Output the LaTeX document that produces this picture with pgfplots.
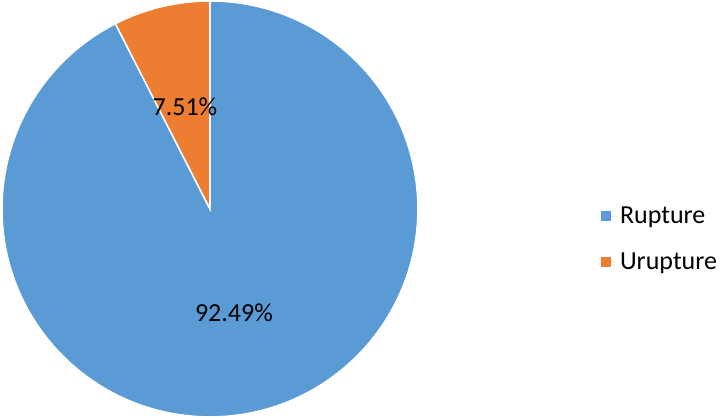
\documentclass[border=0pt]{standalone}
\usepackage{fontspec}
\setmainfont{Carlito}
\usepackage{pgfplots}
\pgfplotsset{compat=1.18}
\definecolor{pieblue}{HTML}{5B9BD5}
\definecolor{pieorange}{HTML}{ED7D31}
\begin{document}
\begin{tikzpicture}
% shares in percent
\def\valRupture{92.49}
\def\valUrupture{7.51}
\pgfmathsetmacro\angB{\valUrupture*3.6}
\pgfmathsetmacro\angA{\valRupture*3.6}
\begin{axis}[
    x=1pt, y=1pt,
    xmin=0, xmax=720, ymin=0, ymax=419,
    hide axis, clip=false,
    legend style={at={(axis cs:601,180)}, anchor=west, draw=none, fill=none,
        font=\fontsize{26}{30}\selectfont, row sep=21pt, inner sep=0pt,
        nodes={inner sep=3pt}},
    legend cell align=left,
    legend image code/.code={\fill[#1, draw=none] (0pt,-5pt) rectangle (10pt,5pt);
        \path[draw=none] (0pt,0pt) -- (16pt,0pt);},
]
\path (axis cs:0,0) rectangle (axis cs:720,419);
\fill[pieblue, draw=white, line width=1.5pt] (axis cs:210,210) -- (axis cs:210,418)
    arc[start angle=90, delta angle=-\angA, radius=208pt] -- cycle;
\fill[pieorange, draw=white, line width=1.5pt] (axis cs:210,210) -- (axis cs:210,418)
    arc[start angle=90, delta angle=\angB, radius=208pt] -- cycle;
\node[font=\fontsize{26}{30}\selectfont] at (axis cs:185,312) {7.51\%};
\node[font=\fontsize{26}{30}\selectfont] at (axis cs:234,106) {92.49\%};
\addlegendimage{fill=pieblue}
\addlegendentry{Rupture}
\addlegendimage{fill=pieorange}
\addlegendentry{Urupture}
\end{axis}
\end{tikzpicture}
\end{document}
